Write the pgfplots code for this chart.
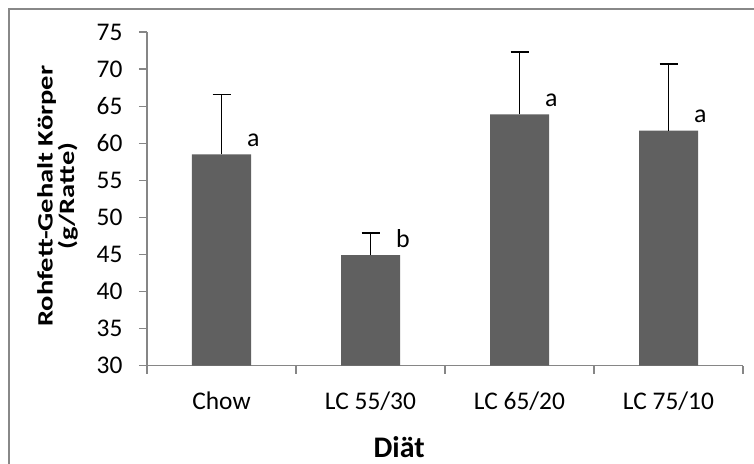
\documentclass[border=0pt]{standalone}
\usepackage{pgfplots}
\pgfplotsset{compat=1.18}
\usepackage{pgfplotstable}
\usepackage{fontspec}
\setmainfont{Carlito}
\definecolor{barfill}{RGB}{96,96,96}
\definecolor{axgray}{RGB}{134,134,134}
\definecolor{framegray}{RGB}{136,136,136}
\pgfplotstableread{
x y err label
0 58.5 8.1 a
1 44.9 3.0 b
2 63.9 8.4 a
3 61.7 9.0 a
}\datatable
\begin{document}
\begin{tikzpicture}
\useasboundingbox (0,0) rectangle (754bp,464bp);
\draw[framegray, line width=2bp] (9bp,-20bp) -- (9bp,455bp) -- (780bp,455bp);
\begin{axis}[
  at={(147bp,98.3bp)}, anchor=south west,
  scale only axis, width=596bp, height=333.7bp,
  xmin=-0.5, xmax=3.5, ymin=30, ymax=75,
  axis lines*=left,
  axis line style={-, draw=axgray, line width=1.2bp},
  every outer x axis line/.append style={-},
  every outer y axis line/.append style={-},
  ytick={30,35,...,75},
  xtick={0,1,2,3},
  xticklabels={Chow,LC 55/30,LC 65/20,LC 75/10},
  minor xtick={-0.5,0.5,1.5,2.5,3.5},
  tick align=outside,
  major tick length=8bp,
  minor tick length=8bp,
  x tick style={draw=none},
  minor x tick style={draw=axgray, line width=1.2bp},
  y tick style={draw=axgray, line width=1.2bp},
  tick label style={font=\fontsize{25.5}{30}\selectfont, black},
  /pgf/number format/assume math mode=true,
  xticklabel style={yshift=-15bp},
  yticklabel style={xshift=-13bp},
  ylabel={\scalebox{1.3}[1]{Rohfett-Gehalt Körper}\\\scalebox{1.3}[1]{(g/Ratte)}},
  ylabel style={at={(axis description cs:-0.150,0.508)}, anchor=center, align=center, font=\bfseries\fontsize{22}{21.5}\selectfont},
  xlabel={Diät},
  xlabel style={at={(axis description cs:0.423,-0.2736)}, anchor=base, font=\bfseries\fontsize{30}{36}\selectfont},
  ybar, bar width=59bp,
  nodes near coords,
  point meta=explicit symbolic,
  every node near coord/.append style={anchor=base west, xshift=22bp, yshift=8bp, font=\fontsize{26}{30}\selectfont, black},
  clip=false,
]
\addplot[fill=barfill, draw=none,
  error bars/.cd, y dir=plus, y explicit,
  error bar style={black, line width=1.5bp},
  error mark options={rotate=90, mark size=9bp, line width=1.5bp, black}]
  table[x=x, y=y, y error=err, meta=label] {\datatable};
\end{axis}
\end{tikzpicture}
\end{document}
